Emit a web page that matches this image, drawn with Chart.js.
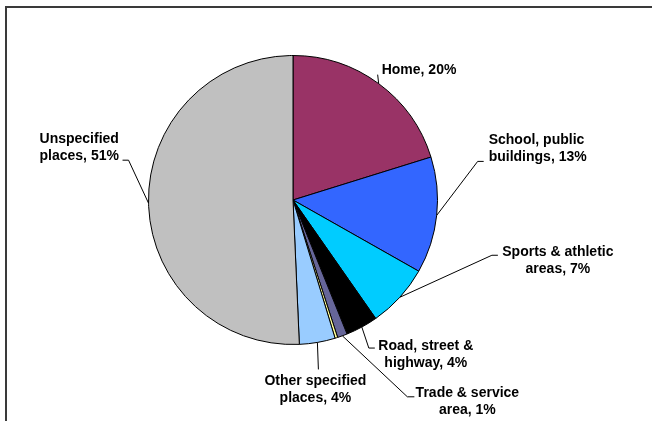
<!DOCTYPE html>
<html>
<head>
<meta charset="utf-8">
<script src="https://cdn.jsdelivr.net/npm/chart.js@4"></script>
<style>
    html, body { margin: 0; padding: 0; background: #fff; }
    #wrap { position: relative; width: 652px; height: 421px; }
</style>
</head>
<body>
<div id="wrap"><canvas id="placesChart" width="652" height="421"></canvas></div>
<script>
// Places where the injuries happened (percent of total)
const categories = ['Home', 'School, public buildings', 'Sports & athletic areas', 'Road, street & highway',
    'Trade & service area', 'Industrial areas', 'Other specified places', 'Unspecified places'];
const values = [20.2, 13.0, 7.1, 3.6, 1.1, 0.3, 4.0, 50.7];
const sliceColors = ['#993366', '#3366FF', '#00CCFF', '#000000', '#666699', '#FFFF99', '#99CCFF', '#C0C0C0'];

// label text, split over lines; the percent goes on the last line
const labelLines = [
    ['Home'],
    ['School, public', 'buildings'],
    ['Sports & athletic', 'areas'],
    ['Road, street &', 'highway'],
    ['Trade & service', 'area'],
    null,
    ['Other specified', 'places'],
    ['Unspecified', 'places']
];

// where each label sits, relative to the point on the rim at the middle of its slice
// elbow/end: leader line bends; text: first line anchor; align: text alignment
const labelLayout = [
    { elbow: [-1, -9], end: [-1, -9], text: [3, -13], align: 'left' },
    { elbow: [41, -54], end: [47, -54], text: [52, -75], align: 'left' },
    { elbow: [92, -42], end: [98, -42], text: [158, -45], align: 'center' },
    { elbow: [7, 21], end: [13, 21], text: [64, 19], align: 'center' },
    { elbow: [65, 61], end: [72, 61], text: [125, 57], align: 'center' },
    null,
    { elbow: [1, 27], end: [1, 27], text: [-2, 39], align: 'center' },
    { elbow: [-20, -43], end: [-26, -43], text: [-109, -64], align: 'left' }
];

const lineHeight = 17;

// outer frame around the plot area
const framePlugin = {
    id: 'frame',
    beforeDraw(chart) {
        const ctx = chart.ctx;
        ctx.save();
        ctx.strokeStyle = '#3a3a3a';
        ctx.lineWidth = 2;
        ctx.beginPath();
        ctx.moveTo(6, chart.height + 2);
        ctx.lineTo(6, 7);
        ctx.lineTo(chart.width + 2, 7);
        ctx.stroke();
        ctx.restore();
    }
};

// data labels with leader lines
const leaderLabels = {
    id: 'leaderLabels',
    afterDatasetsDraw(chart) {
        const ctx = chart.ctx;
        const meta = chart.getDatasetMeta(0);
        ctx.save();
        ctx.font = 'bold 14px "Liberation Sans", Arial, sans-serif';
        ctx.fillStyle = '#000';
        ctx.strokeStyle = '#000';
        ctx.lineWidth = 1;
        ctx.textBaseline = 'middle';

        meta.data.forEach((arc, i) => {
            const layout = labelLayout[i];
            if (!layout || !labelLines[i]) return;
            const mid = (arc.startAngle + arc.endAngle) / 2;
            const ex = arc.x + arc.outerRadius * Math.cos(mid);
            const ey = arc.y + arc.outerRadius * Math.sin(mid);

            ctx.beginPath();
            ctx.moveTo(ex, ey);
            ctx.lineTo(ex + layout.elbow[0], ey + layout.elbow[1]);
            ctx.lineTo(ex + layout.end[0], ey + layout.end[1]);
            ctx.stroke();

            const lines = labelLines[i].slice();
            lines[lines.length - 1] += ', ' + Math.round(values[i]) + '%';
            ctx.textAlign = layout.align;
            lines.forEach((t, k) => {
                ctx.fillText(t, ex + layout.text[0], ey + layout.text[1] + k * lineHeight);
            });
        });
        ctx.restore();
    }
};

const ctx = document.getElementById('placesChart').getContext('2d');
new Chart(ctx, {
    type: 'pie',
    data: {
        labels: categories,
        datasets: [{
            data: values,
            backgroundColor: sliceColors,
            borderColor: '#000',
            borderWidth: 1
        }]
    },
    options: {
        responsive: false,
        animation: false,
        layout: {
            padding: { top: 55, bottom: 76, left: 0, right: 66 }
        },
        plugins: {
            legend: { display: false },
            tooltip: { enabled: false }
        }
    },
    plugins: [framePlugin, leaderLabels]
});
</script>
</body>
</html>
